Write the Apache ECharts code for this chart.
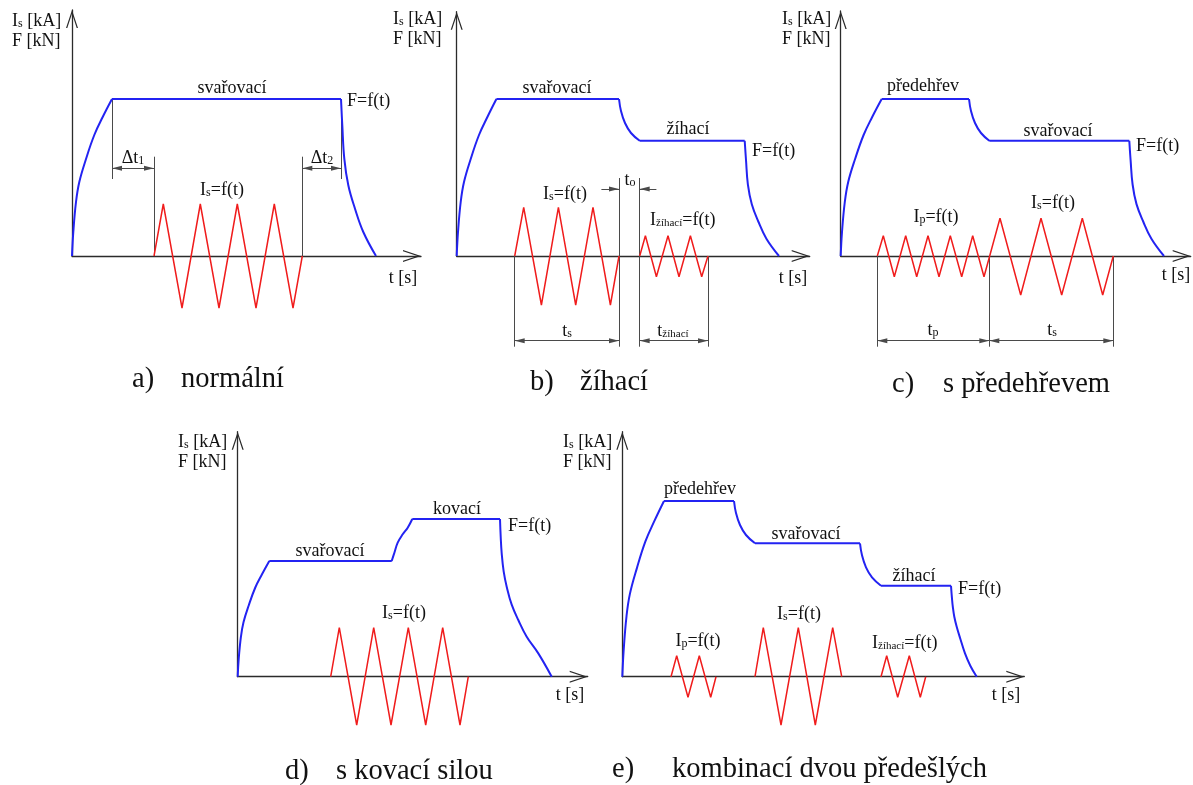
<!DOCTYPE html>
<html>
<head>
<meta charset="utf-8">
<title>Průběhy svařovacího proudu a přítlačné síly</title>
<script src="https://cdn.jsdelivr.net/npm/echarts@6/dist/echarts.min.js"></script>
<style>
  html, body { margin: 0; padding: 0; background: #fff; }
  #chart { width: 1193px; height: 785px; }
</style>
</head>
<body>
<div id="chart"></div>
<script>
// hodnoty: t vodorovně od počátku, hodnota nahoru od osy t
// '-' přeruší čáru, aby se křivky vyhlazovaly zvlášť a rohy zůstaly ostré

// a) normální
const silaA = [[0,0],[1.3,24],[4,54],[7.3,74],[14,97],[22.3,121],[30.7,139],[40,157],[40,'-'],
  [40,157],[269,157],[269,'-'],
  [269,157],[270.3,130.7],[272.3,97.3],[276.3,70.7],[283,47.3],[291.3,24],[304,0]];
const proudA = [[82,0],[91.3,52],[110,-52],[128.3,52],[147,-52],[165.3,52],[184,-52],[202.3,52],[221,-52],[230.3,0]];
const pomocneA = [[40,157,77],[82,99.3,0],[230.3,99.3,0],[269,157,77]];
const kotyA = [[40,82,87.7],[230.3,269,87.7]];

// b) žíhací
const silaB = [[0,0],[1.3,24],[4,54],[7.3,74],[14,97],[22.3,121],[30.7,139],[39.7,157],[39.7,'-'],
  [39.7,157],[162.3,157],[162.3,'-'],
  [162.3,157],[164.3,145],[168.3,133],[174.3,123],[183,115.3],[183,'-'],
  [183,115.3],[288,115.3],[288,'-'],
  [288,115.3],[289.3,96],[291.2,71.3],[295.1,51.8],[301.6,34.5],[309.7,17.3],[322.3,0]];
const proudB = [[58,0],[67,48.7],[84.7,-49],[101.7,48.7],[119,-49],[136.3,48.7],[153.7,-49],[162.3,0]];
const proudZihaniB = [[183,0],[188.7,20.3],[199.7,-20.7],[211.3,20.3],[222.3,-20.7],[233.7,20.3],[245,-20.7],[251.3,0]];
const pomocneB = [[162.3,78,-90.7],[183,78,-90.7],[58,0,-90.7],[251.3,0,-90.7]];
const kotyB = [[58,162.3,-84.7],[183,251.3,-84.7]];
const kotyVenB = [[144.7,162.3,67],[199.7,183,67]];   // t0, šipky zvenku

// c) s předehřevem
const silaC = [[0,0],[1.3,24],[4.1,54],[7.5,74],[14.4,97],[22.9,121],[31.5,139],[41,157],[41,'-'],
  [41,157],[128.3,157],[128.3,'-'],
  [128.3,157],[130.3,145],[134.3,133],[140.3,123],[148.6,115.3],[148.6,'-'],
  [148.6,115.3],[288.6,115.3],[288.6,'-'],
  [288.6,115.3],[289.9,95.9],[291.9,71.5],[295.8,51.9],[302.5,34.5],[310.7,17.3],[323.3,0]];
const proudC = [[36.6,0],[42.6,20.3],[53.6,-20.7],[65,20.3],[76,-20.7],[87.3,20.3],[98.3,-20.7],[109.6,20.3],[121,-20.7],[132,20.3],[143.3,-20.7],[159.3,37.7],[180,-39],[200.3,37.7],[221,-39],[241.6,37.7],[262,-39],[272.6,0]];
const pomocneC = [[36.6,0,-90.7],[148.6,0,-90.7],[272.6,0,-90.7]];
const kotyC = [[36.6,148.6,-84.7],[148.6,272.6,-84.7]];

// d) s kovací silou
const silaD = [[0,0],[1,17.7],[3.2,39.8],[5.8,54.5],[11.1,71.5],[17.6,89.2],[24.3,102.4],[31.6,115.7],[31.6,'-'],
  [31.6,115.7],[154,115.7],[154,'-'],
  [154,115.7],[156.7,124],[160,134],[165,142.4],[170,149],[174.6,157.7],[174.6,'-'],
  [174.6,157.7],[262.3,157.7],[262.3,'-'],
  [262.3,157.7],[263,140],[264,123.3],[266,105],[269,90],[274,72],[280.6,56.7],[289,40],[300.6,23.3],[314,0]];
const proudD = [[93,0],[101.6,49],[119,-48.3],[136,49],[153.3,-48.3],[170.6,49],[188,-48.3],[205,49],[222.3,-48.3],[230.6,0]];

// e) kombinace
const silaE = [[0,0],[1.4,26.9],[4.2,60.4],[7.6,82.8],[14.6,108.6],[23.2,135.5],[32,155.5],[41.7,175.7],[41.7,'-'],
  [41.7,175.7],[111.7,175.7],[111.7,'-'],
  [111.7,175.7],[113.7,163.7],[117.7,151.7],[123.7,141.7],[132.7,133.4],[132.7,'-'],
  [132.7,133.4],[237.7,133.4],[237.7,'-'],
  [237.7,133.4],[239.7,121.4],[243.7,109.4],[249.7,99.4],[258.7,91],[258.7,'-'],
  [258.7,91],[328.7,91],[328.7,'-'],
  [328.7,91],[329.7,78],[330.5,70],[332,60],[334.4,50],[338,38],[342.7,23.3],[348,11],[354.4,0]];
const proudPredE = [[48.7,0],[54.4,21],[65.7,-20.6],[77,21],[88.4,-20.6],[93.7,0]];
const proudE = [[132.7,0],[141,49],[158.7,-48.3],[176,49],[193,-48.3],[210.4,49],[219.4,0]];
const proudZihaniE = [[258.7,0],[264.4,21],[275.4,-20.6],[287,21],[298,-20.6],[303.4,0]];

const panely = [
  { box: { left: 72, top: 10, width: 349, height: 246 }, sila: silaA, proudy: [proudA], pomocne: pomocneA, koty: kotyA, kotyVen: [] },
  { box: { left: 456.7, top: 11.7, width: 353, height: 244.3 }, sila: silaB, proudy: [proudB, proudZihaniB], pomocne: pomocneB, koty: kotyB, kotyVen: kotyVenB },
  { box: { left: 840.7, top: 11, width: 350, height: 245 }, sila: silaC, proudy: [proudC], pomocne: pomocneC, koty: kotyC, kotyVen: [] },
  { box: { left: 237.7, top: 431.7, width: 350, height: 245 }, sila: silaD, proudy: [proudD], pomocne: [], koty: [], kotyVen: [] },
  { box: { left: 622.3, top: 431.7, width: 402, height: 245 }, sila: silaE, proudy: [proudPredE, proudE, proudZihaniE], pomocne: [], koty: [], kotyVen: [] }
];

const serif = '"Liberation Serif", "Times New Roman", serif';
const BLUE = '#2323f2';
const RED = '#f01c1c';
const AXIS = '#2b2b2b';
const DIM = '#4a4a4a';
const osaSipka = 'path://M6,0 L12,18 L10.7,18 L6,3.8 L1.3,18 L0,18 Z';
// hrot uprostřed obrysu symbolu, aby končil přesně na konci kóty
const kotaSipka = 'path://M2.5,10 L5,20 L0,20 Z M2.5,0';
const kotaVel = [[5, 20], [5, 20]];

const grids = [], xAxes = [], yAxes = [], series = [];

function kotovani(i, data, symbol) {
  return {
    type: 'lines', coordinateSystem: 'cartesian2d', xAxisIndex: i, yAxisIndex: i,
    clip: false, silent: true, z: 2, polyline: false,
    symbol: symbol, symbolSize: kotaVel,
    lineStyle: { color: DIM, width: 1, opacity: 1, curveness: 0 },
    data: data
  };
}

panely.forEach(function (p, i) {
  grids.push(Object.assign({ containLabel: false }, p.box));
  const osa = {
    type: 'value', gridIndex: i, min: 0,
    axisLine: { show: true, symbol: ['none', osaSipka], symbolSize: [12, 18], symbolOffset: [0, -9], lineStyle: { color: AXIS, width: 1.3 } },
    axisTick: { show: false }, axisLabel: { show: false }, splitLine: { show: false }
  };
  xAxes.push(Object.assign({}, osa, { max: p.box.width }));
  yAxes.push(Object.assign({}, osa, { max: p.box.height }));

  if (p.pomocne.length) {
    series.push(kotovani(i, p.pomocne.map(function (d) { return { coords: [[d[0], d[1]], [d[0], d[2]]] }; }), ['none', 'none']));
  }
  if (p.koty.length) {
    series.push(kotovani(i, p.koty.map(function (d) { return { coords: [[d[0], d[2]], [d[1], d[2]]] }; }), [kotaSipka, kotaSipka]));
  }
  if (p.kotyVen.length) {
    series.push(kotovani(i, p.kotyVen.map(function (d) { return { coords: [[d[0], d[2]], [d[1], d[2]]] }; }), ['none', kotaSipka]));
  }
  p.proudy.forEach(function (pr) {
    series.push({
      type: 'line', xAxisIndex: i, yAxisIndex: i, data: pr, symbol: 'none', clip: false, z: 3,
      lineStyle: { color: RED, width: 1.5 }
    });
  });
  series.push({
    type: 'line', xAxisIndex: i, yAxisIndex: i, data: p.sila, symbol: 'none', clip: false, z: 4,
    smooth: 0.4, connectNulls: false,
    lineStyle: { color: BLUE, width: 2 }
  });
});

const bohat = {
  n: { fontFamily: serif, fontSize: 18, lineHeight: 20, verticalAlign: 'bottom', fill: '#111' },
  s: { fontFamily: serif, fontSize: 12, lineHeight: 13, verticalAlign: 'bottom', fill: '#111' },
  z: { fontFamily: serif, fontSize: 11, lineHeight: 13, verticalAlign: 'bottom', fill: '#111' },
  c: { fontFamily: serif, fontSize: 28.5, lineHeight: 32, fill: '#111' }
};

function txt(x, y, s, align) {
  return {
    type: 'text', x: x, y: y, silent: true, z: 10,
    style: { text: s, rich: bohat, align: align || 'center', verticalAlign: 'middle', fill: '#111', font: '18px ' + serif }
  };
}

const osaPopis = '{n|I}{s|s}{n| [kA]}\n{n|F [kN]}';
const IsF = '{n|I}{s|s}{n|=f(t)}';
const Ff = '{n|F=f(t)}';
const tS = '{n|t [s]}';

const texty = [
  // a
  txt(12, 30, osaPopis, 'left'),
  txt(232, 87, '{n|svařovací}'),
  txt(347, 100, Ff, 'left'),
  txt(133, 157, '{n|Δt}{s|1}'),
  txt(322, 157, '{n|Δt}{s|2}'),
  txt(222, 189, IsF),
  txt(403, 277, tS),
  // b
  txt(393, 28, osaPopis, 'left'),
  txt(557, 87, '{n|svařovací}'),
  txt(688, 128, '{n|žíhací}'),
  txt(752, 150, Ff, 'left'),
  txt(630, 179, '{n|t}{s|o}'),
  txt(565, 193, IsF),
  txt(650, 219, '{n|I}{z|žíhací}{n|=f(t)}', 'left'),
  txt(567, 330, '{n|t}{s|s}'),
  txt(673, 330, '{n|t}{z|žíhací}'),
  txt(793, 277, tS),
  // c
  txt(782, 28, osaPopis, 'left'),
  txt(923, 85, '{n|předehřev}'),
  txt(1058, 130, '{n|svařovací}'),
  txt(1136, 145, Ff, 'left'),
  txt(936, 216, '{n|I}{s|p}{n|=f(t)}'),
  txt(1053, 202, IsF),
  txt(933, 329, '{n|t}{s|p}'),
  txt(1052, 329, '{n|t}{s|s}'),
  txt(1176, 274, tS),
  // d
  txt(178, 451, osaPopis, 'left'),
  txt(330, 550, '{n|svařovací}'),
  txt(457, 508, '{n|kovací}'),
  txt(508, 525, Ff, 'left'),
  txt(404, 612, IsF),
  txt(570, 694, tS),
  // e
  txt(563, 451, osaPopis, 'left'),
  txt(700, 488, '{n|předehřev}'),
  txt(806, 533, '{n|svařovací}'),
  txt(914, 575, '{n|žíhací}'),
  txt(958, 588, Ff, 'left'),
  txt(698, 640, '{n|I}{s|p}{n|=f(t)}'),
  txt(799, 613, IsF),
  txt(872, 642, '{n|I}{z|žíhací}{n|=f(t)}', 'left'),
  txt(1006, 694, tS),
  // popisky
  txt(132, 380, '{c|a)}', 'left'), txt(181, 380, '{c|normální}', 'left'),
  txt(530, 383, '{c|b)}', 'left'), txt(580, 383, '{c|žíhací}', 'left'),
  txt(892, 385, '{c|c)}', 'left'), txt(943, 385, '{c|s předehřevem}', 'left'),
  txt(285, 772, '{c|d)}', 'left'), txt(336, 772, '{c|s kovací silou}', 'left'),
  txt(612, 770, '{c|e)}', 'left'), txt(672, 770, '{c|kombinací dvou předešlých}', 'left')
];

const chart = echarts.init(document.getElementById('chart'));
chart.setOption({
  animation: false,
  backgroundColor: '#fff',
  grid: grids,
  xAxis: xAxes,
  yAxis: yAxes,
  series: series,
  graphic: texty
});
</script>
</body>
</html>
